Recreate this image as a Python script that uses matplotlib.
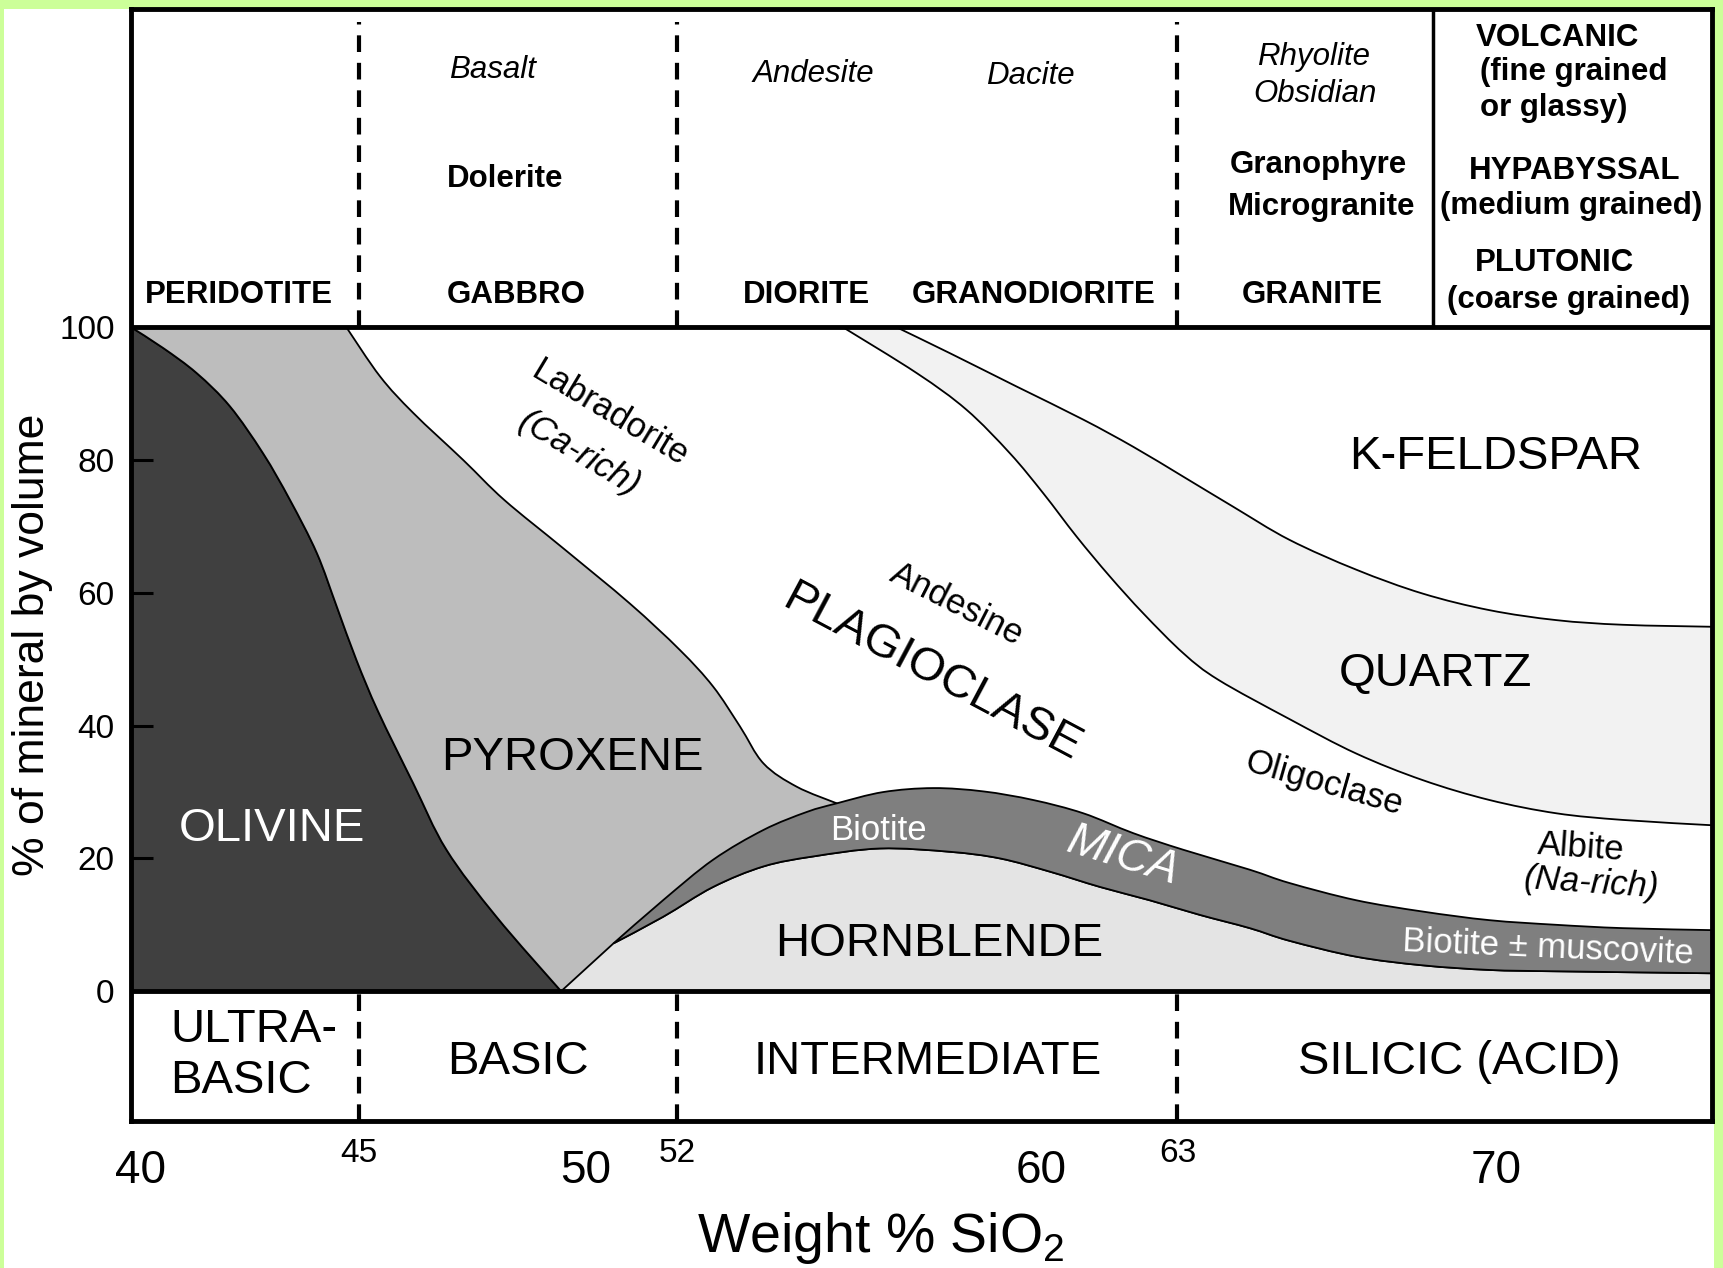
import numpy as np
import matplotlib
matplotlib.use("Agg")
import matplotlib.pyplot as plt
from matplotlib.patches import Rectangle, PathPatch
from matplotlib.path import Path
from matplotlib.transforms import ScaledTranslation

plt.rcParams['font.family'] = ['Liberation Sans', 'DejaVu Sans']
plt.rcParams['mathtext.fontset'] = 'custom'
plt.rcParams['mathtext.rm'] = 'Liberation Sans'

# boundary curves (x = wt% SiO2, y = % volume)
olivine_x = [40.0, 40.7, 41.44, 42.17, 42.9, 43.49, 44.08, 44.52, 44.95, 45.43, 46.2, 46.93, 48.03, 49.45]
olivine_y = [100, 96.9, 93.1, 88.1, 81.0, 74.0, 66.0, 57.9, 49.9, 42.1, 31.3, 21.3, 11.2, 0]

pyx_top_x = [44.73, 45.47, 46.2, 47.3, 48.2, 49.5, 50.96, 52.06, 52.79, 53.38, 53.9, 54.63, 55.51]
pyx_top_y = [100, 92.6, 87.1, 80.0, 74.0, 66.7, 58.4, 51.4, 45.9, 39.9, 34.3, 30.8, 28.3]

mica_top_x = [50.6, 51.69, 52.79, 53.9, 54.85, 55.51, 56.53, 57.63, 58.73, 59.83, 60.93, 62.03,
              63.13, 64.59, 65.46, 66.93, 68.39, 69.86, 71.33, 72.79, 74.75]
mica_top_y = [7.2, 13.7, 19.8, 24.3, 27.0, 28.3, 30.0, 30.6, 30.1, 28.8, 26.8, 23.8,
              21.3, 18.3, 16.3, 13.7, 12.0, 10.7, 10.0, 9.5, 9.2]

mica_bot_x = [50.6, 51.69, 52.79, 53.9, 54.99, 56.46, 58.0, 59.1, 60.2, 61.3, 62.39, 63.49,
              64.59, 65.46, 66.93, 68.39, 69.86, 71.33, 74.75]
mica_bot_y = [7.2, 11.2, 15.7, 18.8, 20.3, 21.5, 21.0, 20.0, 18.0, 15.7, 13.7, 11.5,
              9.5, 7.6, 5.2, 3.9, 3.2, 3.0, 2.7]

qtz_lo_x = [55.65, 57.27, 58.36, 59.32, 60.05, 60.78, 61.51, 62.25, 63.13, 63.9, 65.46,
            66.93, 68.39, 69.86, 71.33, 72.79, 74.75]
qtz_lo_y = [100, 93.1, 87.6, 81.0, 75.0, 68.5, 62.5, 56.9, 50.9, 46.9, 41.0,
            35.8, 31.8, 28.8, 26.8, 25.8, 25.0]

qtz_up_x = [56.83, 58.0, 59.46, 60.93, 62.03, 63.13, 64.22, 65.46, 66.93, 68.39, 69.86,
            71.33, 72.79, 74.75]
qtz_up_y = [100, 96.1, 91.1, 86.1, 82.0, 77.5, 73.0, 68.0, 63.5, 59.9, 57.4,
            55.9, 55.2, 54.9]

xmin, xmax = 40, 74.75

x_ticks = [40, 45, 50, 52, 60, 63, 70]
x_big = [True, False, True, False, True, False, True]
y_ticks = [0, 20, 40, 60, 80, 100]
dividers = [45, 52, 63]


def curve(xs, ys):
    # smooth bezier through the read points
    p = np.column_stack([xs, ys]).astype(float)
    verts, codes = [p[0]], [Path.MOVETO]
    for i in range(len(p) - 1):
        p0 = p[i - 1] if i > 0 else p[i]
        p3 = p[i + 2] if i + 2 < len(p) else p[i + 1]
        verts += [p[i] + (p[i + 1] - p0) / 6, p[i + 1] - (p3 - p[i]) / 6, p[i + 1]]
        codes += [Path.CURVE4] * 3
    return verts, codes


def line(xs, ys):
    verts = list(np.column_stack([xs, ys]).astype(float))
    return verts, [Path.MOVETO] + [Path.LINETO] * (len(verts) - 1)


def region(parts, color):
    verts, codes = [], []
    for v, c in parts:
        if codes:
            c = [Path.LINETO] + c[1:]
        verts += v
        codes += c
    verts.append(verts[0])
    codes.append(Path.CLOSEPOLY)
    ax.add_patch(PathPatch(Path(verts, codes), facecolor=color, edgecolor='black', lw=1.3))


fig = plt.figure(figsize=(17.23, 12.68), dpi=100, facecolor='#ccff99')
fig.patches.append(Rectangle((0.0023, 0), 0.9925, 0.9929, transform=fig.transFigure,
                             facecolor='white', edgecolor='none', zorder=-5))
ax = fig.add_axes([0.0762, 0.1160, 0.9174, 0.8771])
ax.set_xlim(xmin, xmax)
ax.set_ylim(-19.54, 148)

# olivine
region([line([xmin, xmin], [0, 100]), curve(olivine_x, olivine_y)], '#404040')
# pyroxene (lower part is covered by hornblende and mica)
region([curve(olivine_x, olivine_y),
        line([olivine_x[-1], pyx_top_x[-1], pyx_top_x[-1]], [0, 0, pyx_top_y[-1]]),
        curve(pyx_top_x[::-1], pyx_top_y[::-1])], '#bdbdbd')
# hornblende
region([line([olivine_x[-1], mica_bot_x[0]], [0, mica_bot_y[0]]),
        curve(mica_bot_x, mica_bot_y),
        line([xmax, xmax], [mica_bot_y[-1], 0])], '#e4e4e4')
# mica
region([curve(mica_top_x, mica_top_y), curve(mica_bot_x[::-1], mica_bot_y[::-1])], '#7f7f7f')
# quartz
region([curve(qtz_lo_x, qtz_lo_y), curve(qtz_up_x[::-1], qtz_up_y[::-1])], '#f2f2f2')

# frame lines
for s in ax.spines.values():
    s.set_linewidth(3.5)
    s.set_zorder(5)
ax.axhline(0, color='black', lw=3.5, zorder=5)
ax.axhline(100, color='black', lw=3.5, zorder=5)
for d in dividers:
    ax.vlines(d, 100, 146, colors='black', lw=3, linestyles=(0, (4, 2.6)))
    ax.vlines(d, -19.54, 0, colors='black', lw=3, linestyles=(0, (4, 2.6)))
ax.vlines(68.61, 100, 148, colors='black', lw=2.5)

# axes ticks
ax.set_yticks(y_ticks)
ax.set_yticklabels([str(v) for v in y_ticks], fontsize=24)
ax.tick_params(axis='y', direction='in', length=16, width=2.2, pad=12)
ax.set_xticks(x_ticks)
ax.set_xticklabels([str(v) for v in x_ticks])
ax.tick_params(axis='x', which='major', length=0)
for t, big in zip(ax.xaxis.get_major_ticks(), x_big):
    t.set_pad(20 if big else 12)
    t.label1.set_fontsize(33 if big else 24)
first = ax.xaxis.get_major_ticks()[0].label1
first.set_transform(first.get_transform() + ScaledTranslation(6.3 / 72, 0, fig.dpi_scale_trans))
ax.set_xticks([50, 60, 70], minor=True)
ax.tick_params(axis='x', which='minor', direction='in', length=14, width=2.2)

ax.set_ylabel('% of mineral by volume', fontsize=32)
ax.yaxis.set_label_coords(-0.0497, 0.428)
ax.text(0.474, -0.118, 'Weight % SiO$_2$', transform=ax.transAxes, fontsize=40,
        ha='center', va='baseline')

# top box: rock names
bold = dict(fontsize=22.5, fontweight='bold', ha='center', va='center')
ital = dict(fontsize=22.5, fontstyle='italic', ha='center', va='center')
ax.text(42.37, 104.85, 'PERIDOTITE', **bold)
ax.text(46.94, 104.85, 'GABBRO', **{**bold, 'ha': 'left'})
ax.text(54.84, 104.85, 'DIORITE', **bold)
ax.text(59.84, 104.85, 'GRANODIORITE', **bold)
ax.text(65.97, 104.85, 'GRANITE', **bold)
ax.text(46.94, 122.4, 'Dolerite', **{**bold, 'ha': 'left'})
ax.text(46.99, 138.8, 'Basalt', **{**ital, 'ha': 'left'})
ax.text(54.99, 138.2, 'Andesite', **ital)
ax.text(59.77, 137.8, 'Dacite', **ital)
ax.text(65.98, 140.7, 'Rhyolite', **ital)
ax.text(66.03, 135.2, 'Obsidian', **ital)
ax.text(66.10, 124.4, 'Granophyre', **bold)
ax.text(66.17, 118.1, 'Microgranite', **bold)
ax.text(69.56, 143.6, 'VOLCANIC', **{**bold, 'ha': 'left'})
ax.text(69.64, 138.5, '(fine grained', **{**bold, 'ha': 'left'})
ax.text(69.66, 133.0, 'or glassy)', **{**bold, 'ha': 'left'})
ax.text(71.72, 123.6, 'HYPABYSSAL', **bold)
ax.text(71.65, 118.3, '(medium grained)', **bold)
ax.text(71.29, 109.7, 'PLUTONIC', **bold)
ax.text(71.60, 104.2, '(coarse grained)', **bold)

# mineral fields
big = dict(fontsize=34, ha='center', va='center')
ax.text(43.10, 24.5, 'OLIVINE', color='white', **big)
ax.text(49.70, 35.1, 'PYROXENE', **big)
ax.text(57.77, 7.1, 'HORNBLENDE', **big)
ax.text(69.99, 80.4, 'K-FELDSPAR', **big)
ax.text(68.68, 47.8, 'QUARTZ', **big)
ax.text(57.6, 48.0, 'PLAGIOCLASE', rotation=-28, rotation_mode='anchor', **big)
ax.text(61.81, 20.3, 'MICA', color='white', fontstyle='italic', rotation=-17,
        rotation_mode='anchor', **{**big, 'fontsize': 33})

small = dict(fontsize=25, ha='center', va='center', rotation_mode='anchor')
ax.text(56.42, 24.2, 'Biotite', color='white', **small)
ax.text(71.14, 6.6, 'Biotite ± muscovite', color='white', rotation=-2.5, **small)
ax.text(50.52, 87.0, 'Labradorite', rotation=-31, **small)
ax.text(49.84, 81.0, '(Ca-rich)', rotation=-31, fontstyle='italic', **small)
ax.text(58.14, 58.2, 'Andesine', rotation=-27, **small)
ax.text(66.23, 31.3, 'Oligoclase', rotation=-16, **small)
ax.text(71.87, 21.6, 'Albite', rotation=-4, **small)
ax.text(72.10, 16.3, '(Na-rich)', rotation=-4, fontstyle='italic', **small)

# bottom box: silica classes
ax.text(40.86, -5.8, 'ULTRA-', **{**big, 'ha': 'left'})
ax.text(40.86, -13.6, 'BASIC', **{**big, 'ha': 'left'})
ax.text(48.51, -10.6, 'BASIC', **big)
ax.text(57.52, -10.6, 'INTERMEDIATE', **big)
ax.text(69.19, -10.6, 'SILICIC (ACID)', **big)

fig.savefig('out.png', dpi=100, facecolor=fig.get_facecolor())
